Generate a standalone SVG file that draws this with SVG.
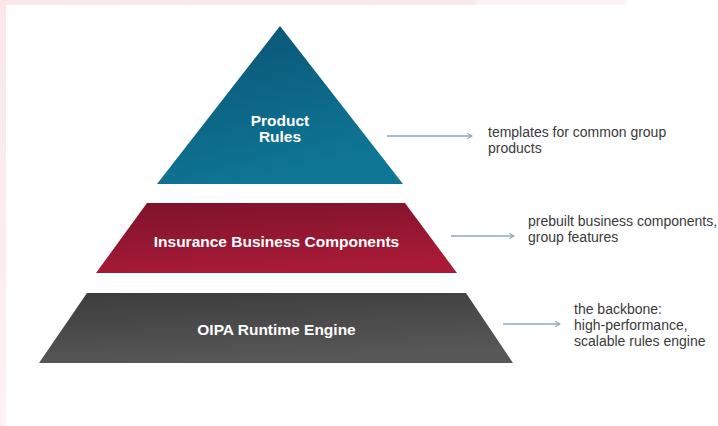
<svg xmlns="http://www.w3.org/2000/svg" width="718" height="426" viewBox="0 0 718 426">
  <style>
    .lbl { font-family: "Liberation Sans", Arial, sans-serif; font-weight: bold; font-size: 15.5px; fill: #ffffff; text-anchor: middle; }
    .desc { font-family: "Liberation Sans", Arial, sans-serif; font-size: 14px; fill: #3a3a3a; }
    .conn { stroke: #8eaabb; stroke-width: 1.3; fill: none; marker-end: url(#arr); }
  </style>
  <defs>
    <marker id="arr" viewBox="0 0 10 10" refX="9" refY="5" markerWidth="8" markerHeight="8" markerUnits="userSpaceOnUse" orient="auto">
      <polyline points="3,1.5 9,5 3,8.5" fill="none" stroke="#8eaabb" stroke-width="1.3"/>
    </marker>
    <linearGradient id="gTeal" x1="0" y1="0" x2="0.4" y2="1">
      <stop offset="0" stop-color="#0a5272"/>
      <stop offset="1" stop-color="#0f7696"/>
    </linearGradient>
    <linearGradient id="gRed" x1="0" y1="0" x2="0.3" y2="1">
      <stop offset="0" stop-color="#7c1329"/>
      <stop offset="1" stop-color="#a81a38"/>
    </linearGradient>
    <linearGradient id="gGray" x1="0" y1="0" x2="0.3" y2="1">
      <stop offset="0" stop-color="#3c3c3c"/>
      <stop offset="1" stop-color="#575757"/>
    </linearGradient>
    <linearGradient id="gTop" x1="0" y1="0" x2="1" y2="0">
      <stop offset="0" stop-color="#fbe6e8"/>
      <stop offset="0.66" stop-color="#f9e9eb"/>
      <stop offset="0.665" stop-color="#fcf3f4"/>
      <stop offset="0.87" stop-color="#fcf3f4"/>
      <stop offset="0.875" stop-color="#ffffff"/>
    </linearGradient>
    <linearGradient id="gLeft" x1="0" y1="0" x2="0" y2="1">
      <stop offset="0" stop-color="#fbe6e8"/>
      <stop offset="1" stop-color="#fdf3f4"/>
    </linearGradient>
  </defs>

  <rect x="0" y="0" width="718" height="426" fill="#ffffff"/>
  <rect x="0" y="0" width="718" height="5" fill="url(#gTop)"/>
  <rect x="0" y="0" width="6" height="426" fill="url(#gLeft)"/>

  <g id="product-rules">
    <polygon points="280,26 403,184 157,184" fill="url(#gTeal)"/>
    <text class="lbl" x="280" y="126">Product</text>
    <text class="lbl" x="280" y="142">Rules</text>
  </g>

  <g id="insurance-business-components">
    <polygon points="147,203 405,203 457,273 96,273" fill="url(#gRed)"/>
    <text class="lbl" x="276.5" y="247">Insurance Business Components</text>
  </g>

  <g id="oipa-runtime-engine">
    <polygon points="87,293 466,293 513,363 39,363" fill="url(#gGray)"/>
    <text class="lbl" x="276.5" y="335">OIPA Runtime Engine</text>
  </g>

  <g id="desc-product">
    <text class="desc" x="488" y="137">templates for common group</text>
    <text class="desc" x="488" y="153">products</text>
  </g>

  <g id="desc-components">
    <text class="desc" x="528" y="226">prebuilt business components,</text>
    <text class="desc" x="528" y="242">group features</text>
  </g>

  <g id="desc-engine">
    <text class="desc" x="574" y="314">the backbone:</text>
    <text class="desc" x="574" y="330">high-performance,</text>
    <text class="desc" x="574" y="346">scalable rules engine</text>
  </g>

  <g id="connectors">
    <line class="conn" x1="387" y1="136" x2="472" y2="136"/>
    <line class="conn" x1="451" y1="236" x2="514" y2="236"/>
    <line class="conn" x1="503" y1="324" x2="560" y2="324"/>
  </g>
</svg>
